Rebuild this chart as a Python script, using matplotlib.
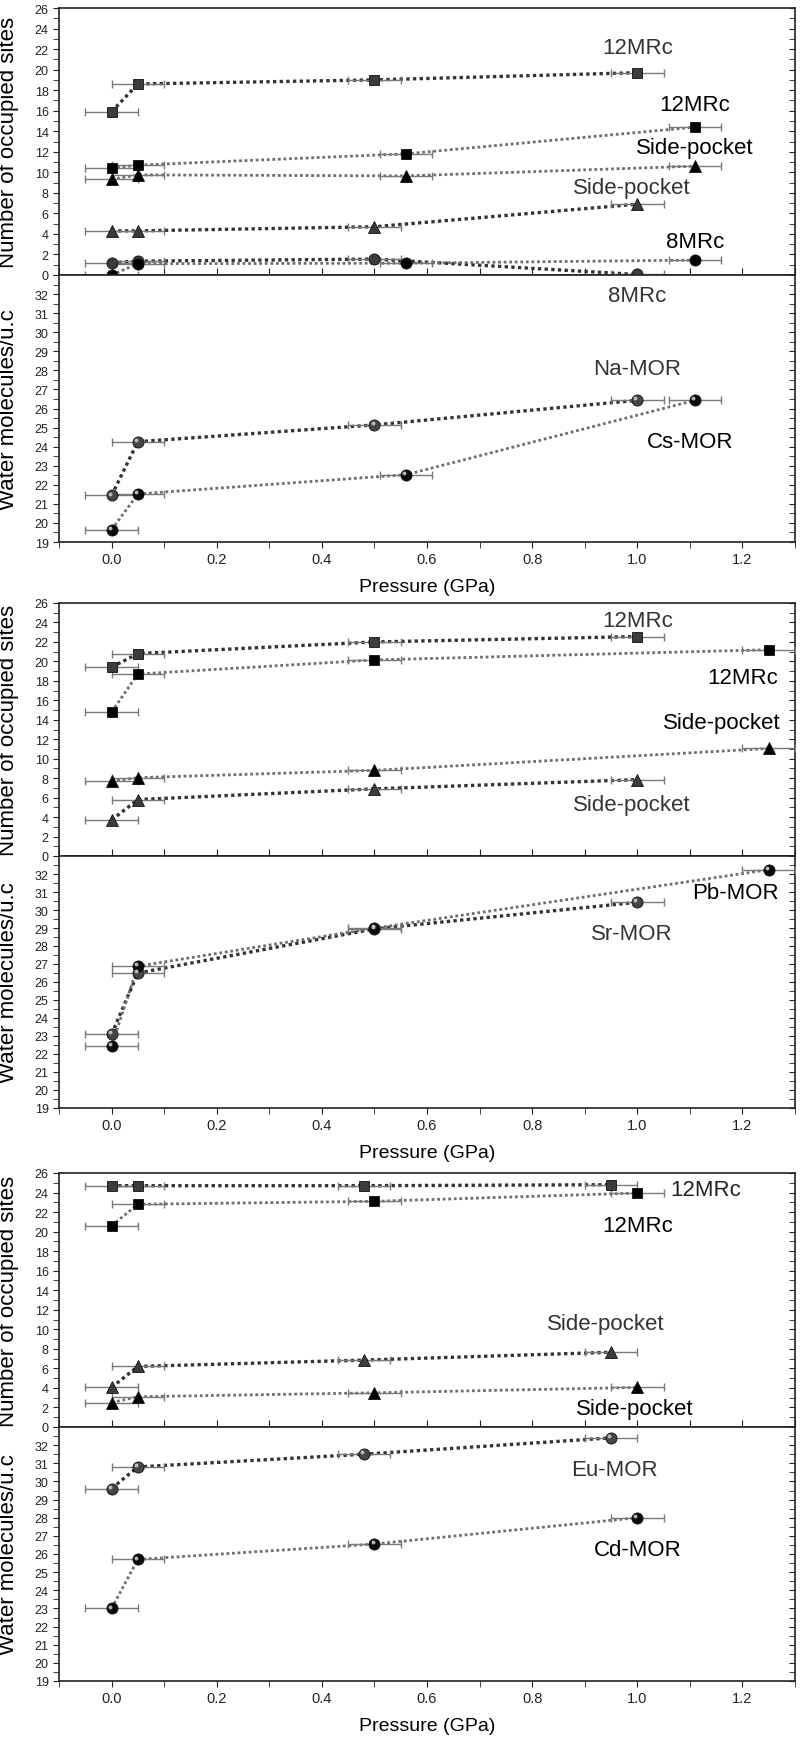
import matplotlib.pyplot as plt
from matplotlib import transforms
from matplotlib.ticker import MultipleLocator

# ---- panel 1 (Na / Cs) ----
p1_x_gray = [0.0, 0.05, 0.5, 1.0]
p1_x_black = [0.0, 0.05, 0.56, 1.11]
p1_sq_gray = [15.9, 18.6, 19.0, 19.7]
p1_sq_black = [10.4, 10.7, 11.8, 14.4]
p1_tri_gray = [4.3, 4.3, 4.7, 6.9]
p1_tri_black = [9.3, 9.75, 9.65, 10.6]
p1_ci_gray = [1.2, 1.35, 1.55, 0.05]
p1_ci_black = [0.0, 1.1, 1.15, 1.45]
p1_w_gray = [21.44, 24.26, 25.14, 26.43]
p1_w_black = [19.64, 21.52, 22.53, 26.43]

# ---- panel 2 (Sr / Pb) ----
p2_x_gray = [0.0, 0.05, 0.5, 1.0]
p2_x_black = [0.0, 0.05, 0.5, 1.25]
p2_sq_gray = [19.4, 20.8, 22.0, 22.55]
p2_sq_black = [14.8, 18.7, 20.15, 21.2]
p2_tri_gray = [3.7, 5.8, 6.9, 7.85]
p2_tri_black = [7.7, 8.05, 8.8, 11.05]
p2_w_gray = [23.1, 26.5, 28.95, 30.43]
p2_w_black = [22.44, 26.88, 28.99, 32.24]

# ---- panel 3 (Eu / Cd) ----
p3_x_gray = [0.0, 0.05, 0.48, 0.95]
p3_x_black = [0.0, 0.05, 0.5, 1.0]
p3_sq_gray = [24.7, 24.7, 24.7, 24.8]
p3_sq_black = [20.6, 22.8, 23.1, 23.95]
p3_tri_gray = [4.05, 6.2, 6.85, 7.65]
p3_tri_black = [2.5, 3.1, 3.5, 4.05]
p3_w_gray = [29.61, 30.8, 31.5, 32.4]
p3_w_black = [23.0, 25.7, 26.55, 28.0]

x_err = 0.05
x_ticks = [0.0, 0.2, 0.4, 0.6, 0.8, 1.0, 1.2]

GRAY = '#3c3c3c'
BLACK = '#000000'

plt.rcParams['font.family'] = ['Liberation Sans', 'DejaVu Sans']

fig = plt.figure(figsize=(8, 17.4), dpi=100)
H = 1740.0
L, W = 59 / 800, 736 / 800


def make_axes(top, mid, bot):
    ax_t = fig.add_axes([L, 1 - mid / H, W, (mid - top) / H])
    ax_b = fig.add_axes([L, 1 - bot / H, W, (bot - mid) / H])
    for ax in (ax_t, ax_b):
        ax.set_xlim(-0.1, 1.3)
        for s in ax.spines.values():
            s.set_linewidth(1.2)
            s.set_color('#222222')
        ax.tick_params(axis='y', which='both', left=True, right=True,
                       labelleft=True, labelright=False, colors='#222222',
                       direction='out', length=4)
        ax.tick_params(axis='y', which='major', labelsize=9)
    ax_t.set_ylim(0, 26)
    ax_t.yaxis.set_major_locator(MultipleLocator(2))
    ax_t.yaxis.set_minor_locator(MultipleLocator(1))
    ax_b.set_ylim(19, 33)
    ax_b.set_yticks(range(19, 33))
    ax_b.yaxis.set_minor_locator(MultipleLocator(0.5))
    ax_t.xaxis.set_major_locator(MultipleLocator(0.1))
    ax_t.tick_params(axis='x', direction='in', length=5, labelbottom=False,
                     colors='#222222')
    ax_b.set_xticks(x_ticks)
    ax_b.set_xticklabels([f'{v:.1f}' for v in x_ticks])
    ax_b.xaxis.set_minor_locator(MultipleLocator(0.1))
    ax_b.tick_params(axis='x', which='both', direction='out', length=4,
                     labelsize=10.5, colors='#222222')
    ax_b.set_xlim(-0.1, 1.3)
    # right-hand ticks point inward
    for ax in (ax_t, ax_b):
        for t in ax.yaxis.get_major_ticks() + ax.yaxis.get_minor_ticks():
            t.tick2line.set_marker(0)
    ax_t.set_ylabel('Number of occupied sites', fontsize=16)
    ax_b.set_ylabel('Water molecules/u.c', fontsize=16)
    ax_b.set_xlabel('Pressure (GPa)', fontsize=14, labelpad=8)
    ax_t.yaxis.set_label_coords(-0.054, 0.5)
    ax_b.yaxis.set_label_coords(-0.054, 0.5)
    return ax_t, ax_b


def series(ax, x, y, marker, face, line, lw, ms, sphere=False):
    ax.plot(x, y, linestyle=(0, (1, 1)), color=line, linewidth=lw, zorder=2)
    ax.errorbar(x, y, xerr=x_err, fmt='none', ecolor='#7a7a7a',
                elinewidth=1, capsize=3, capthick=1, zorder=3)
    ax.plot(x, y, linestyle='none', marker=marker, markersize=ms,
            markerfacecolor=face, markeredgecolor='#111111',
            markeredgewidth=0.6, zorder=4)
    if sphere:
        shift = transforms.offset_copy(ax.transData, fig=fig, x=-1.3, y=1.3,
                                       units='points')
        ax.plot(x, y, linestyle='none', marker='o', markersize=2.8,
                markerfacecolor='#c8c8c8', markeredgewidth=0,
                alpha=0.9, transform=shift, zorder=5)


def label(ax, txt, x, y, color):
    ax.text(x, y, txt, fontsize=16, color=color, ha='center', va='center',
            clip_on=False, zorder=6)


# ---------------- panel 1 ----------------
a1, b1 = make_axes(9, 276, 543)
series(a1, p1_x_gray, p1_sq_gray, 's', GRAY, '#333333', 2.4, 7.5)
series(a1, p1_x_black, p1_sq_black, 's', BLACK, '#6e6e6e', 2.0, 7.5)
series(a1, p1_x_black, p1_tri_black, '^', BLACK, '#6e6e6e', 2.0, 8.5)
series(a1, p1_x_gray, p1_tri_gray, '^', GRAY, '#333333', 2.4, 8.5)
series(a1, p1_x_gray, p1_ci_gray, 'o', GRAY, '#333333', 2.4, 8)
series(a1, p1_x_black, p1_ci_black, 'o', BLACK, '#6e6e6e', 2.0, 8)
label(a1, '12MRc', 1.0, 22.2, '#333333')
label(a1, '12MRc', 1.11, 16.65, BLACK)
label(a1, 'Side-pocket', 1.11, 12.4, BLACK)
label(a1, 'Side-pocket', 0.99, 8.55, '#333333')
label(a1, '8MRc', 1.11, 3.3, BLACK)
series(b1, p1_x_gray, p1_w_gray, 'o', '#454545', '#333333', 2.4, 8, True)
series(b1, p1_x_black, p1_w_black, 'o', '#0a0a0a', '#6e6e6e', 2.0, 8, True)
label(b1, '8MRc', 1.0, 31.9, '#333333')
label(b1, 'Na-MOR', 1.0, 28.1, '#333333')
label(b1, 'Cs-MOR', 1.1, 24.27, BLACK)

# ---------------- panel 2 ----------------
a2, b2 = make_axes(604, 857, 1109)
series(a2, p2_x_gray, p2_sq_gray, 's', GRAY, '#333333', 2.4, 7.5)
series(a2, p2_x_black, p2_sq_black, 's', BLACK, '#6e6e6e', 2.0, 7.5)
series(a2, p2_x_black, p2_tri_black, '^', BLACK, '#6e6e6e', 2.0, 8.5)
series(a2, p2_x_gray, p2_tri_gray, '^', GRAY, '#333333', 2.4, 8.5)
label(a2, '12MRc', 1.0, 24.2, '#333333')
label(a2, '12MRc', 1.2, 18.37, BLACK)
label(a2, 'Side-pocket', 1.16, 13.74, BLACK)
label(a2, 'Side-pocket', 0.99, 5.32, '#333333')
series(b2, p2_x_gray, p2_w_gray, 'o', '#454545', '#333333', 2.4, 8, True)
series(b2, p2_x_black, p2_w_black, 'o', '#0a0a0a', '#6e6e6e', 2.0, 8, True)
label(b2, 'Pb-MOR', 1.186, 30.98, BLACK)
label(b2, 'Sr-MOR', 0.99, 28.72, '#333333')

# ---------------- panel 3 ----------------
a3, b3 = make_axes(1174, 1428, 1682)
series(a3, p3_x_gray, p3_sq_gray, 's', GRAY, '#333333', 2.4, 7.5)
series(a3, p3_x_black, p3_sq_black, 's', BLACK, '#6e6e6e', 2.0, 7.5)
series(a3, p3_x_gray, p3_tri_gray, '^', GRAY, '#333333', 2.4, 8.5)
series(a3, p3_x_black, p3_tri_black, '^', BLACK, '#6e6e6e', 2.0, 8.5)
label(a3, '12MRc', 1.13, 24.36, '#222222')
label(a3, '12MRc', 1.0, 20.6, BLACK)
label(a3, 'Side-pocket', 0.94, 10.6, '#333333')
label(a3, 'Side-pocket', 0.995, 1.88, BLACK)
series(b3, p3_x_gray, p3_w_gray, 'o', '#454545', '#333333', 2.4, 8, True)
series(b3, p3_x_black, p3_w_black, 'o', '#0a0a0a', '#6e6e6e', 2.0, 8, True)
label(b3, 'Eu-MOR', 0.957, 30.68, '#333333')
label(b3, 'Cd-MOR', 1.0, 26.26, BLACK)

fig.savefig('out.png', dpi=100)
